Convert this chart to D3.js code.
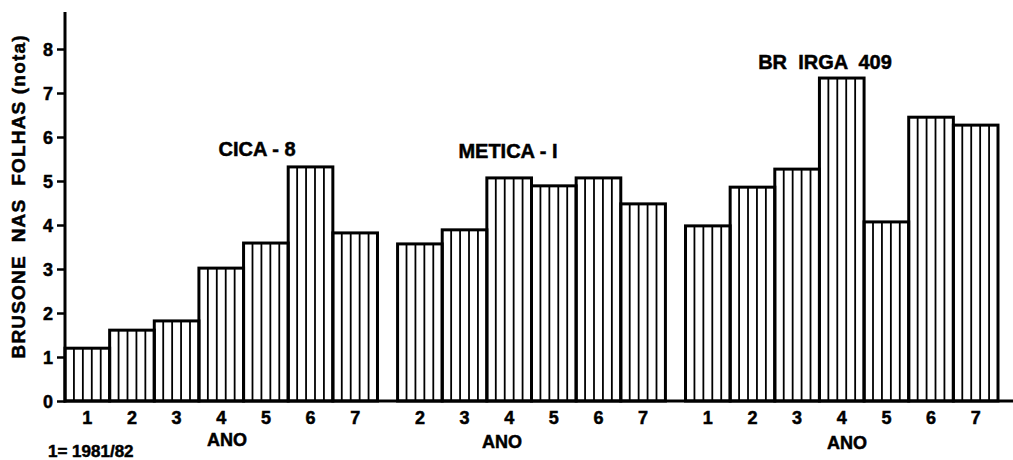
<!DOCTYPE html>
<html>
<head>
<meta charset="utf-8">
<script src="https://cdn.jsdelivr.net/npm/d3@7"></script>
<style>
  html, body { margin: 0; padding: 0; background: #fff; }
  svg { display: block; }
  text { font-family: "Liberation Sans", Arial, sans-serif; font-weight: bold; fill: #000; stroke: #000; stroke-width: 0.5px; }
</style>
</head>
<body>
<svg id="chart" width="1013" height="460"></svg>
<script>
// ---- data ----
const groupNames = ["CICA - 8", "METICA - I", "BR  IRGA  409"];
const cicaYears = [1, 2, 3, 4, 5, 6, 7];
const cicaValues = [1.20, 1.61, 1.82, 3.02, 3.59, 5.32, 3.82];
const meticaYears = [2, 3, 4, 5, 6, 7];
const meticaValues = [3.57, 3.89, 5.07, 4.89, 5.07, 4.48];
const brIrgaYears = [1, 2, 3, 4, 5, 6, 7];
const brIrgaValues = [3.98, 4.86, 5.27, 7.34, 4.07, 6.45, 6.27];
const yTicks = [0, 1, 2, 3, 4, 5, 6, 7, 8];
const yAxisTitle = "BRUSONE  NAS  FOLHAS (nota)";
const xAxisTitle = "ANO";
const footnote = "1= 1981/82";

// ---- layout ----
const svg = d3.select("#chart");
const baseY = 401, topY = 49;
const left = 65, right = 998;
const gapSlots = 0.45;

const groups = [
  { name: groupNames[0], years: cicaYears, values: cicaValues },
  { name: groupNames[1], years: meticaYears, values: meticaValues },
  { name: groupNames[2], years: brIrgaYears, values: brIrgaValues }
];

let slot = 0;
const bars = [];
groups.forEach((g, gi) => {
  g.start = slot;
  g.years.forEach((yr, i) => {
    bars.push({ group: gi, year: yr, value: g.values[i], s0: slot, s1: slot + 1 });
    slot += 1;
  });
  g.end = slot;
  if (gi < groups.length - 1) slot += gapSlots;
});
const totalSlots = slot;

const x = d3.scaleLinear().domain([0, totalSlots]).range([left, right]);
const y = d3.scaleLinear().domain([0, 8]).range([baseY, topY]);

// bars
const barG = svg.append("g");
bars.forEach(b => {
  const x0 = x(b.s0), x1 = x(b.s1);
  const yt = y(b.value);
  const w = x1 - x0;
  for (let k = 1; k < 5; k++) {
    const xx = x0 + w * k / 5;
    barG.append("line")
      .attr("x1", xx).attr("x2", xx)
      .attr("y1", yt).attr("y2", baseY)
      .attr("stroke", "#000").attr("stroke-width", 1.8);
  }
  barG.append("rect")
    .attr("x", x0).attr("y", yt)
    .attr("width", w).attr("height", baseY - yt)
    .attr("fill", "none").attr("stroke", "#000").attr("stroke-width", 3);
});

// y axis
const yAxis = d3.axisLeft(y).tickValues(yTicks).tickSize(8).tickPadding(4).tickFormat(d3.format("d"));
const yg = svg.append("g").attr("transform", `translate(${left},0)`).call(yAxis);
yg.select(".domain").remove();
yg.selectAll(".tick line").attr("stroke", "#000").attr("stroke-width", 2.5);
yg.selectAll(".tick text").style("font-size", "18px")
  .attr("font-family", "Liberation Sans, Arial, sans-serif").attr("dy", "0.36em");
svg.append("line").attr("x1", left).attr("x2", left).attr("y1", 12).attr("y2", baseY + 1.5)
  .attr("stroke", "#000").attr("stroke-width", 3);

// x axis baseline
svg.append("line").attr("x1", left).attr("x2", 1013).attr("y1", baseY).attr("y2", baseY)
  .attr("stroke", "#000").attr("stroke-width", 3);

// x tick labels
svg.append("g").selectAll("text").data(bars).join("text")
  .attr("x", d => x((d.s0 + d.s1) / 2))
  .attr("y", 424)
  .attr("text-anchor", "middle")
  .style("font-size", "18px")
  .text(d => d.year);

// ANO labels
const anoX = [227, 502, 847];
const anoY = [446, 448, 449];
groups.forEach((g, i) => {
  svg.append("text").attr("x", anoX[i]).attr("y", anoY[i]).attr("text-anchor", "middle")
    .style("font-size", "18px").text(xAxisTitle);
});

// group titles
const titlePos = [[257, 156], [508, 158], [825, 69]];
groups.forEach((g, i) => {
  svg.append("text").attr("x", titlePos[i][0]).attr("y", titlePos[i][1])
    .attr("text-anchor", "middle").style("font-size", "20px")
    .attr("xml:space", "preserve")
    .text(g.name);
});

// y axis title
svg.append("text")
  .attr("transform", "translate(25,197) rotate(-90)")
  .attr("text-anchor", "middle")
  .style("font-size", "19px")
  .attr("xml:space", "preserve")
  .attr("textLength", 323).attr("lengthAdjust", "spacing")
  .text(yAxisTitle);

// footnote
svg.append("text").attr("x", 48).attr("y", 457).style("font-size", "17px").text(footnote);
</script>
</body>
</html>
